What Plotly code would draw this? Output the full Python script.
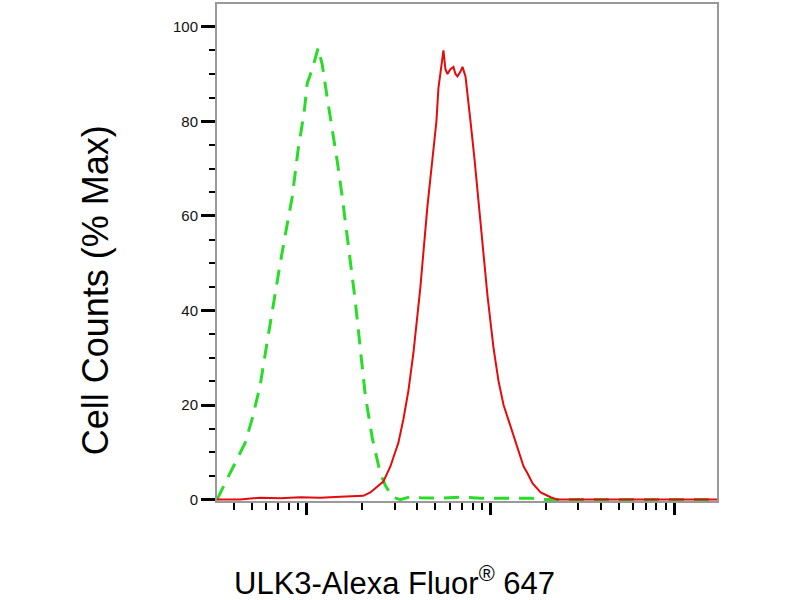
import plotly.graph_objects as go

# fluorescence intensity (x) and % max counts (y)
red_x = [324, 433, 556, 716, 919, 1182, 1519, 2028, 2215, 2389, 2608, 2848, 3149, 3353,
         3570, 3802, 4151, 4532, 4827, 5074, 5203, 5403, 5540, 5680, 5825, 6049, 6282,
         6442, 6607, 6860, 7035, 7305, 7490, 7779, 8178, 8600, 9045, 9630, 10385, 11058,
         11776, 12857, 14041, 15136, 15916, 16953, 18743, 21254, 23207, 39820, 74630, 171000]
red_y = [0, 0, 0.4, 0.3, 0.5, 0.4, 0.6, 0.8, 1.5, 2.5, 3.8, 7, 12, 17,
         23, 31, 45, 62, 72, 80, 87, 92, 95, 91, 90, 91, 91.5,
         90, 89.5, 90.5, 91.5, 89.5, 86, 80, 72, 63, 54, 43, 32, 25,
         20, 15.5, 11, 7, 5.5, 3.4, 1.5, 0.5, 0, 0, 0, 0]

green_x = [324, 358, 396, 461, 503, 556, 600, 647, 716, 771, 832, 896, 967, 1004, 1069,
           1152, 1212, 1290, 1374, 1463, 1558, 1680, 1834, 1953, 2080, 2271, 2511, 2675,
           2921, 3228, 3661, 4151, 5338, 6860, 8821, 16530, 19950, 171000]
green_y = [0, 3.4, 7, 12, 17, 24, 32, 40, 50, 57, 64, 74, 82, 88, 91,
           95.5, 92, 85, 78.5, 71.6, 64, 54, 42, 32, 22, 13, 5.5, 3,
           0.5, 0, 0.6, 0.4, 0.3, 0.5, 0.3, 0.3, 0, 0]

x_major = [1e3, 1e4, 1e5]
x_minor = [m * d for d in (100, 1000, 10000, 100000) for m in range(2, 10)]
y_ticks = [0, 20, 40, 60, 80, 100]

fig = go.Figure()
fig.add_trace(go.Scatter(x=green_x, y=green_y, mode='lines',
                         line=dict(color='rgb(40,220,40)', width=3, dash='15px,10px')))
fig.add_trace(go.Scatter(x=red_x, y=red_y, mode='lines',
                         line=dict(color='rgb(230,10,10)', width=2)))

fig.update_layout(
    width=800, height=600,
    margin=dict(l=217, r=83, t=2, b=99),
    paper_bgcolor='white', plot_bgcolor='white',
    showlegend=False,
    font=dict(family='Liberation Sans, Arial', color='#222'),
)
fig.update_xaxes(type='log', range=[2.5106, 5.233],
                 tickvals=x_major, showticklabels=False,
                 ticks='outside', ticklen=12, tickwidth=3, tickcolor='black',
                 minor=dict(tickvals=x_minor, ticks='outside', ticklen=7,
                            tickwidth=1.5, tickcolor='black'),
                 showline=True, linecolor='#999', linewidth=2, mirror=True,
                 showgrid=False, zeroline=False)
fig.update_yaxes(range=[-0.3, 104.8], tickvals=y_ticks,
                 ticks='outside', ticklen=14, tickwidth=3, tickcolor='black',
                 tickfont=dict(size=15, color='#111'),
                 minor=dict(dtick=5, ticks='outside', ticklen=6,
                            tickwidth=1.5, tickcolor='black'),
                 showline=True, linecolor='#999', linewidth=2, mirror=True,
                 showgrid=False, zeroline=False)

fig.add_annotation(text='Cell Counts (% Max)', xref='paper', yref='paper',
                   x=-0.244, y=0.424, xanchor='center', yanchor='middle',
                   textangle=-90, showarrow=False,
                   font=dict(size=36, color='black'))
fig.add_annotation(text='ULK3-Alexa Fluor<sup>®</sup> 647', xref='paper', yref='paper',
                   x=0.355, y=-0.16, xanchor='center', yanchor='middle',
                   showarrow=False,
                   font=dict(size=31, color='black'))

# drop the browser's default 8px body margin so the figure sits at the page corner
fig.write_html("out.html", config={'displayModeBar': False},
               post_script="document.body.style.margin='0';")
